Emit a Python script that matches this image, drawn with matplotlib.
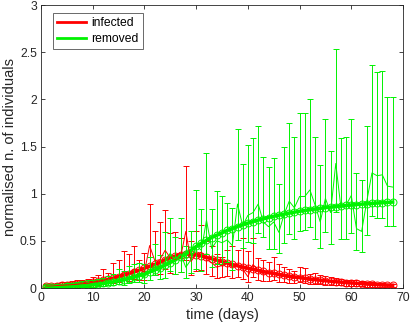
import numpy as np
import matplotlib
matplotlib.use("Agg")
import matplotlib.pyplot as plt
from matplotlib.lines import Line2D

plt.rcParams['font.family'] = ['Liberation Sans', 'DejaVu Sans']

# days of observation
days = np.arange(1, 69)

# infected: observed mean, lower / upper error bar ends, model fit
inf_mean = [0.02, 0.02, 0.025, 0.03, 0.03, 0.035, 0.04, 0.045, 0.05, 0.06,
            0.07, 0.08, 0.10, 0.11, 0.13, 0.16, 0.15, 0.20, 0.19, 0.17,
            0.45, 0.29, 0.30, 0.40, 0.32, 0.30, 0.33, 0.60, 0.28, 0.36,
            0.38, 0.30, 0.27, 0.22, 0.24, 0.26, 0.22, 0.25, 0.20, 0.12,
            0.25, 0.18, 0.15, 0.15, 0.17, 0.13, 0.12, 0.11, 0.10, 0.12,
            0.11, 0.08, 0.09, 0.08, 0.07, 0.07, 0.06, 0.06, 0.05, 0.05,
            0.04, 0.04, 0.035, 0.03, 0.03, 0.025, 0.02, 0.02]
inf_low = [0.01, 0.01, 0.01, 0.015, 0.015, 0.02, 0.02, 0.02, 0.025, 0.03,
           0.035, 0.04, 0.05, 0.05, 0.06, 0.08, 0.07, 0.10, 0.09, 0.08,
           0.22, 0.14, 0.15, 0.20, 0.16, 0.15, 0.17, 0.30, 0.14, 0.18,
           0.19, 0.15, 0.13, 0.11, 0.12, 0.13, 0.11, 0.12, 0.10, 0.06,
           0.12, 0.09, 0.07, 0.07, 0.08, 0.06, 0.06, 0.05, 0.05, 0.06,
           0.05, 0.04, 0.04, 0.04, 0.035, 0.035, 0.03, 0.03, 0.025, 0.025,
           0.02, 0.02, 0.015, 0.015, 0.015, 0.01, 0.01, 0.01]
inf_up = [0.04, 0.04, 0.05, 0.06, 0.06, 0.07, 0.08, 0.09, 0.10, 0.12,
          0.14, 0.20, 0.16, 0.26, 0.30, 0.39, 0.36, 0.45, 0.30, 0.37,
          0.89, 0.60, 0.70, 0.83, 0.58, 0.59, 0.53, 1.29, 0.50, 0.60,
          0.67, 0.50, 0.45, 0.36, 0.33, 0.40, 0.44, 0.40, 0.53, 0.39,
          0.53, 0.32, 0.30, 0.28, 0.33, 0.25, 0.22, 0.20, 0.18, 0.22,
          0.21, 0.15, 0.16, 0.14, 0.13, 0.12, 0.11, 0.10, 0.09, 0.09,
          0.08, 0.07, 0.06, 0.06, 0.05, 0.05, 0.04, 0.04]
inf_model = [0.020, 0.022, 0.025, 0.028, 0.032, 0.036, 0.041, 0.047, 0.054, 0.062,
             0.071, 0.081, 0.093, 0.106, 0.12, 0.136, 0.153, 0.171, 0.19, 0.21,
             0.23, 0.25, 0.27, 0.30, 0.32, 0.34, 0.355, 0.36, 0.36, 0.35,
             0.34, 0.325, 0.31, 0.295, 0.28, 0.265, 0.25, 0.235, 0.222, 0.21,
             0.198, 0.186, 0.175, 0.164, 0.154, 0.144, 0.135, 0.126, 0.118, 0.11,
             0.103, 0.096, 0.089, 0.083, 0.077, 0.072, 0.067, 0.062, 0.058, 0.054,
             0.05, 0.046, 0.043, 0.04, 0.037, 0.034, 0.032, 0.03]

# removed: observed mean, lower / upper error bar ends, model fit
rem_mean = [0.01, 0.01, 0.015, 0.015, 0.02, 0.02, 0.025, 0.03, 0.03, 0.04,
            0.045, 0.05, 0.06, 0.07, 0.09, 0.08, 0.11, 0.12, 0.13, 0.12,
            0.17, 0.25, 0.18, 0.27, 0.37, 0.28, 0.36, 0.22, 0.30, 0.45,
            0.40, 0.72, 0.42, 0.50, 0.48, 0.51, 0.45, 0.89, 0.66, 0.77,
            0.80, 0.89, 0.70, 0.65, 0.70, 0.59, 0.78, 0.92, 0.85, 0.97,
            0.97, 1.04, 0.88, 0.70, 0.95, 0.80, 1.32, 0.85, 0.88, 0.98,
            0.63, 0.60, 0.92, 1.22, 1.19, 1.20, 1.08, 1.07]
rem_low = [0.0, 0.0, 0.0, 0.0, 0.0, 0.0, 0.005, 0.01, 0.01, 0.015,
           0.02, 0.02, 0.03, 0.03, 0.04, 0.03, 0.05, 0.06, 0.06, 0.05,
           0.09, 0.14, 0.10, 0.11, 0.18, 0.15, 0.17, 0.11, 0.16, 0.20,
           0.18, 0.36, 0.22, 0.25, 0.25, 0.28, 0.19, 0.51, 0.42, 0.49,
           0.48, 0.58, 0.54, 0.41, 0.41, 0.37, 0.48, 0.57, 0.52, 0.60,
           0.61, 0.65, 0.52, 0.42, 0.59, 0.47, 0.81, 0.52, 0.52, 0.58,
           0.40, 0.38, 0.56, 0.76, 0.74, 0.74, 0.66, 0.66]
rem_up = [0.03, 0.03, 0.04, 0.04, 0.05, 0.05, 0.06, 0.07, 0.08, 0.09,
          0.10, 0.11, 0.13, 0.15, 0.20, 0.18, 0.23, 0.25, 0.27, 0.25,
          0.33, 0.47, 0.35, 0.59, 0.74, 0.54, 0.74, 0.45, 0.60, 1.04,
          0.84, 1.43, 0.84, 1.03, 0.98, 0.90, 0.85, 1.69, 1.31, 1.52,
          1.59, 1.72, 1.39, 1.28, 1.38, 1.10, 1.50, 1.75, 1.60, 1.85,
          1.85, 2.00, 1.60, 1.30, 1.79, 1.45, 2.53, 1.59, 1.60, 1.79,
          1.22, 1.15, 1.72, 2.36, 2.29, 2.30, 2.03, 2.03]
rem_model = [0.010, 0.011, 0.013, 0.015, 0.017, 0.019, 0.022, 0.026, 0.030, 0.035,
             0.041, 0.048, 0.056, 0.065, 0.075, 0.087, 0.10, 0.115, 0.132, 0.15,
             0.17, 0.192, 0.216, 0.242, 0.27, 0.30, 0.33, 0.36, 0.40, 0.44,
             0.475, 0.505, 0.535, 0.56, 0.585, 0.61, 0.63, 0.65, 0.67, 0.688,
             0.704, 0.72, 0.734, 0.747, 0.76, 0.772, 0.783, 0.794, 0.804, 0.813,
             0.822, 0.83, 0.838, 0.845, 0.852, 0.858, 0.864, 0.87, 0.875, 0.88,
             0.885, 0.889, 0.893, 0.897, 0.901, 0.905, 0.908, 0.911]

red = (1.0, 0.0, 0.0)
green = (0.0, 0.95, 0.0)

fig = plt.figure(figsize=(4.11, 3.29), dpi=100)
ax = fig.add_axes([0.0998, 0.1246, 0.8807, 0.8602])

for mean, lo, hi, model, col in [(inf_mean, inf_low, inf_up, inf_model, red),
                                 (rem_mean, rem_low, rem_up, rem_model, green)]:
    mean = np.array(mean)
    err = [mean - np.array(lo), np.array(hi) - mean]
    ax.errorbar(days, mean, yerr=err, color=col, lw=0.7, elinewidth=0.7,
                capsize=2.3, capthick=0.7)
    ax.plot(days, model, color=col, lw=2.5, marker='o', ms=5,
            mfc='none', mew=0.7)

ax.set_xlim(0, 70)
ax.set_ylim(0, 3)
ax.set_xticks(np.arange(0, 71, 10))
ax.set_yticks(np.arange(0, 3.01, 0.5))
ax.set_yticklabels(['0', '0.5', '1', '1.5', '2', '2.5', '3'])
ax.tick_params(direction='in', top=True, right=True, length=3, width=0.6,
               labelsize=8.7, colors='#262626', pad=3)
for s in ax.spines.values():
    s.set_color('#262626')
    s.set_linewidth(0.6)
ax.set_xlabel('time (days)', fontsize=10.5, color='#262626', labelpad=3)
ax.set_ylabel('normalised n. of individuals', fontsize=10.5, color='#262626', labelpad=2)

handles = [Line2D([], [], color=red, lw=2), Line2D([], [], color=green, lw=2)]
leg = ax.legend(handles, ['infected', 'removed'], loc='upper left',
                bbox_to_anchor=(0.033, 0.972), fontsize=8.7, frameon=True,
                fancybox=False, edgecolor='#262626', handlelength=2.4,
                borderpad=0.35, labelspacing=0.3, handletextpad=0.4,
                borderaxespad=0)
leg.get_frame().set_linewidth(0.6)

fig.savefig('out.png', dpi=100)
